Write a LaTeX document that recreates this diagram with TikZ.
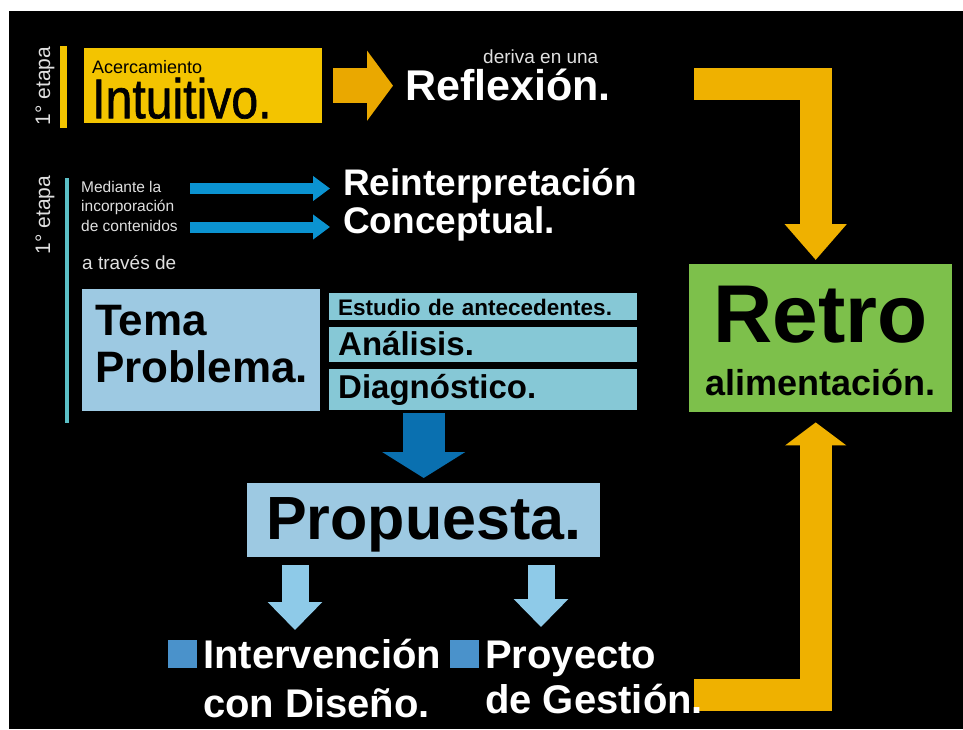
\documentclass[tikz,border=0pt]{standalone}
\usepackage{fontspec}
\setmainfont{Liberation Sans}
\usetikzlibrary{arrows.meta}
\definecolor{gold}{HTML}{F3C400}
\definecolor{amber}{HTML}{EAA800}
\definecolor{ochre}{HTML}{EFB100}
\definecolor{lime}{HTML}{7DC04B}
\definecolor{sky}{HTML}{9DC9E2}
\definecolor{aqua}{HTML}{86C8D6}
\definecolor{teal}{HTML}{5BBFC6}
\definecolor{azure}{HTML}{0B93D1}
\definecolor{navy}{HTML}{0A70B0}
\definecolor{pale}{HTML}{8ECAE8}
\definecolor{square}{HTML}{4A92CB}
\tikzstyle{panel} = [rectangle, anchor=north west, inner ysep=0pt, text=black]
\tikzstyle{title} = [anchor=base west, inner sep=0pt, text=white, align=left]
\tikzstyle{note} = [anchor=base west, inner sep=0pt, text=white!88!black, align=left]
\tikzstyle{etapa} = [rotate=90, inner sep=0pt, text=white!88!black, font=\fontsize{21}{21}\selectfont]
\tikzstyle{bullet} = [rectangle, fill=square, minimum width=29pt, minimum height=28pt, inner sep=0pt, anchor=north west]
\tikzstyle{goldarrow} = [draw=amber, line width=35pt, -{Triangle[length=26pt, width=69pt]}]
\tikzstyle{bluearrow} = [draw=azure, line width=11pt, -{Triangle[length=17pt, width=24pt]}]
\tikzstyle{navyarrow} = [draw=navy, line width=42pt, -{Triangle[length=26pt, width=82pt]}]
\tikzstyle{palearrow} = [draw=pale, line width=27pt, -{Triangle[length=28pt, width=53pt]}]
\tikzstyle{feedback} = [draw=ochre, line width=32pt]

\begin{document}
\begin{tikzpicture}[x=1pt, y=1pt]
    \fill[white] (0,0) rectangle (963,-729);
    \fill[black] (9,-11) rectangle (963,-729);
    \useasboundingbox (0,0) rectangle (963,-729);
    \fill[gold] (60,-46) rectangle (67,-128);
    \fill[teal] (65,-178) rectangle (69,-423);
    \draw (45,-86)  node[etapa] (e1) {1° etapa};
    \draw (45,-215) node[etapa] (e2) {1° etapa};
    \draw (84,-48) node[panel, fill=gold, inner xsep=8pt, text width=222pt, align=left, font=\fontsize{56}{45}\selectfont] (intuit) {\rule{0pt}{25pt}{\fontsize{18}{45}\selectfont Acercamiento}\\\scalebox{0.86}[1]{\addfontfeature{FakeBold=1.2}Intuitivo.}\rule[-5pt]{0pt}{5pt}};
    \draw (483,-63)  node[note, font=\fontsize{19}{19}\selectfont] (deriva) {deriva en una};
    \draw (405,-100) node[title, font=\bfseries\fontsize{43}{43}\selectfont] (reflex) {Reflexión.};
    \draw (81,-231)  node[note, font=\fontsize{15.5}{19.5}\selectfont] (medi) {Mediante la\\incorporación\\de contenidos};
    \draw (343,-233) node[title, font=\bfseries\fontsize{37}{38}\selectfont] (reint) {Reinterpretación\\Conceptual.};
    \draw (82,-269)  node[note, font=\fontsize{19}{19}\selectfont] (atraves) {a través de};
    \draw (82,-289)  node[panel, fill=sky, inner xsep=13pt, text width=212pt, align=left, font=\bfseries\fontsize{44}{47}\selectfont] (tema) {\rule{0pt}{46pt}Tema\\Problema.\rule[-29pt]{0pt}{29pt}};
    \draw (329,-293) node[panel, fill=aqua, inner xsep=9pt, text width=290pt, align=left, text height=22pt, text depth=5pt, font=\bfseries\fontsize{22.5}{24}\selectfont] (estudio) {Estudio de antecedentes.};
    \draw (329,-327) node[panel, fill=aqua, inner xsep=9pt, text width=290pt, align=left, text height=28pt, text depth=7pt, font=\bfseries\fontsize{33}{36}\selectfont] (analisis) {Análisis.};
    \draw (329,-369) node[panel, fill=aqua, inner xsep=9pt, text width=290pt, align=left, text height=29pt, text depth=12pt, font=\bfseries\fontsize{33}{36}\selectfont] (diag) {Diagnóstico.};
    \draw (689,-264) node[panel, fill=lime, inner xsep=0pt, text width=263pt, align=center, font=\bfseries\fontsize{36}{53}\selectfont] (retro) {\rule{0pt}{78pt}{\fontsize{82}{53}\selectfont Retro}\hspace*{16pt}\\alimentación.\rule[-17pt]{0pt}{17pt}};
    \draw (247,-483) node[panel, fill=sky, inner xsep=0pt, minimum width=353pt, text height=56pt, text depth=18pt, font=\bfseries\fontsize{61}{61}\selectfont] (prop) {Propuesta.};
    \draw (168,-640) node[bullet] (sq1) {};
    \draw (450,-640) node[bullet] (sq2) {};
    \coordinate (m1) at (190,-188.5);
    \coordinate (m2) at (190,-227);
    \coordinate (d1) at (295,-630);
    \coordinate (d2) at (541,-627);
    \coordinate (fb1) at (694,-83.5);
    \coordinate (fb2) at (694,-694.5);
    \draw[goldarrow, shorten <=11pt, shorten >=12pt] (intuit.east) -- (intuit.east -| reflex.west);
    \draw[bluearrow, shorten >=13pt] (m1) -- (m1 -| reint.west);
    \draw[bluearrow, shorten >=13pt] (m2) -- (m2 -| reint.west);
    \draw[navyarrow, shorten <=3pt, shorten >=5pt] (prop.north |- diag.south) -- (prop.north);
    \draw[palearrow, shorten <=8pt] (prop.south -| d1) -- (d1);
    \draw[palearrow, shorten <=8pt] (prop.south -| d2) -- (d2);
    \draw[feedback, -{Triangle[length=36pt, width=60pt]}, shorten >=4pt] (fb1) -| ([xshift=-5pt]retro.north);
    \draw[feedback, -{Triangle[length=23pt, width=60pt]}, shorten >=10pt] (fb2) -| ([xshift=-5pt]retro.south);
    \draw (203,-717) node[title, font=\bfseries\fontsize{40}{49}\selectfont] (interv) {Intervención\\con Diseño.};
    \draw (485,-713) node[title, font=\bfseries\fontsize{40}{45}\selectfont] (proy) {Proyecto\\de Gestión.};
\end{tikzpicture}
\end{document}
